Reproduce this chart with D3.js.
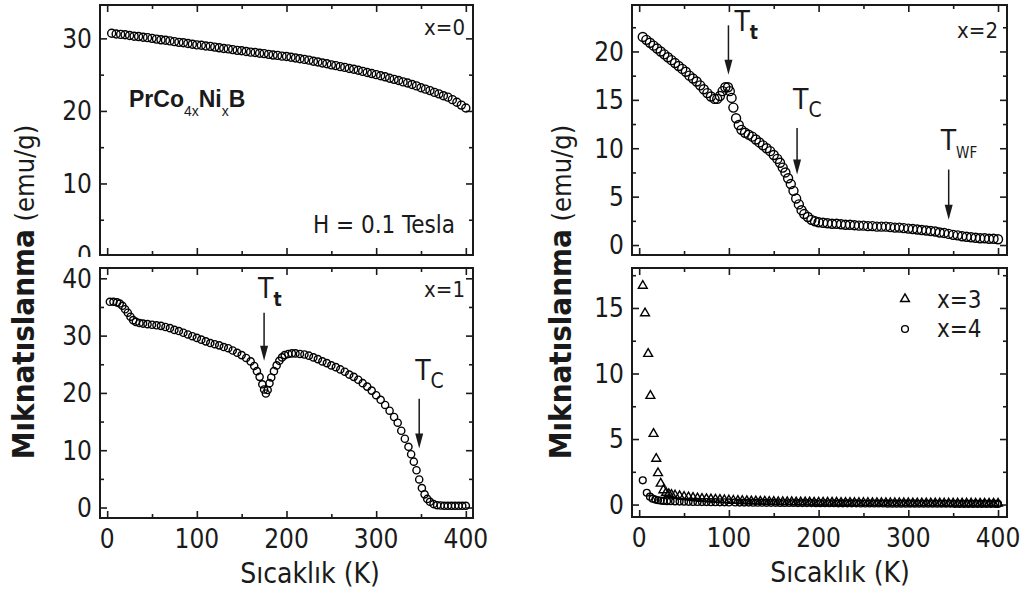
<!DOCTYPE html>
<html>
<head>
<meta charset="utf-8">
<script src="https://cdn.jsdelivr.net/npm/d3@7"></script>
<style>
  body { margin: 0; background: #fff; }
  svg { display: block; }
</style>
</head>
<body>
<svg id="chart" width="1027" height="601"></svg>
<script>
// PrCo(4-x)Ni(x)B magnetisation vs temperature, [T (K), M (emu/g)]
var seriesX0 = [[5,30.7],[10,30.6],[15,30.55],[20,30.5],[25,30.4],[30,30.3],[35,30.25],[40,30.15],[45,30.1],[50,30.0],[55,29.9],[60,29.8],[65,29.75],[70,29.65],[75,29.55],[80,29.45],[85,29.4],[90,29.3],[95,29.2],[100,29.1],[105,29.05],[110,28.95],[115,28.9],[120,28.8],[125,28.7],[130,28.6],[135,28.55],[140,28.45],[145,28.35],[150,28.3],[155,28.2],[160,28.1],[165,28.05],[170,27.95],[175,27.9],[180,27.8],[185,27.7],[190,27.65],[195,27.55],[200,27.5],[205,27.4],[210,27.3],[215,27.2],[220,27.1],[225,27.0],[230,26.85],[235,26.75],[240,26.6],[245,26.5],[250,26.35],[255,26.25],[260,26.1],[265,26.0],[270,25.85],[275,25.75],[280,25.6],[285,25.45],[290,25.3],[295,25.15],[300,25.0],[305,24.85],[310,24.7],[315,24.5],[320,24.35],[325,24.2],[330,24.0],[335,23.85],[340,23.65],[345,23.45],[350,23.2],[355,23.0],[360,22.8],[365,22.55],[370,22.35],[375,22.1],[380,21.9],[385,21.55],[390,21.2],[395,20.8],[400,20.4]];

var seriesX1 = [[3,35.9],[7,35.9],[11,35.8],[14,35.6],[17,35.2],[20,34.6],[23,34.0],[26,33.3],[29,32.7],[32,32.4],[36,32.2],[40,32.1],[45,32.0],[50,31.9],[55,31.8],[60,31.7],[65,31.5],[70,31.3],[75,31.0],[80,30.8],[85,30.5],[90,30.2],[95,29.9],[100,29.6],[105,29.3],[110,29.0],[115,28.7],[120,28.5],[125,28.3],[130,28.0],[135,27.8],[140,27.4],[145,27.0],[150,26.6],[155,26.1],[160,25.5],[164,24.7],[167,23.8],[170,22.8],[173,21.5],[175,20.6],[177,19.9],[179,20.5],[181,21.7],[183,22.7],[186,23.8],[189,24.8],[192,25.6],[195,26.2],[198,26.6],[202,26.8],[206,26.9],[210,26.9],[215,26.8],[220,26.7],[225,26.5],[230,26.2],[235,25.9],[240,25.5],[245,25.2],[250,24.8],[255,24.5],[260,24.1],[265,23.7],[270,23.2],[275,22.8],[280,22.3],[285,21.7],[290,21.1],[295,20.4],[300,19.6],[305,18.8],[310,17.9],[315,16.9],[320,15.8],[324,14.8],[328,13.4],[332,12.0],[336,10.6],[339,9.3],[342,8.0],[345,6.5],[348,4.9],[351,3.4],[354,2.3],[357,1.5],[360,1.0],[364,0.6],[368,0.4],[372,0.35],[376,0.3],[380,0.3],[384,0.3],[388,0.3],[392,0.3],[396,0.3],[400,0.3]];

var seriesX2 = [[4,21.5],[8,21.2],[12,20.9],[16,20.6],[20,20.3],[24,20.0],[28,19.7],[32,19.4],[36,19.1],[40,18.8],[44,18.5],[48,18.2],[52,17.9],[56,17.5],[60,17.2],[64,16.9],[68,16.5],[72,16.1],[76,15.7],[80,15.35],[84,15.1],[87,15.1],[90,15.4],[93,15.9],[96,16.3],[99,16.3],[101,15.9],[103,15.2],[105,14.2],[108,13.1],[111,12.4],[114,11.9],[118,11.6],[122,11.4],[126,11.2],[130,10.9],[134,10.6],[138,10.3],[142,10.0],[146,9.7],[150,9.3],[154,8.9],[157,8.5],[160,8.0],[163,7.5],[166,6.9],[169,6.3],[172,5.6],[175,4.8],[178,4.2],[181,3.6],[184,3.2],[188,2.9],[192,2.6],[196,2.45],[200,2.35],[205,2.3],[210,2.25],[215,2.2],[220,2.2],[225,2.15],[230,2.1],[235,2.1],[240,2.05],[245,2.0],[250,2.0],[255,1.95],[260,1.95],[265,1.9],[270,1.9],[275,1.9],[280,1.85],[285,1.8],[290,1.8],[295,1.75],[300,1.7],[305,1.65],[310,1.6],[315,1.55],[320,1.5],[325,1.45],[330,1.4],[335,1.3],[340,1.25],[345,1.15],[350,1.05],[355,1.0],[360,0.9],[365,0.85],[370,0.8],[375,0.75],[380,0.7],[385,0.7],[390,0.65],[395,0.65],[400,0.6]];

var seriesX3 = [[4,16.7],[6.5,14.6],[10,11.5],[12.5,8.3],[16,5.4],[19,3.5],[21,2.4],[24,1.6],[27,1.1],[30,0.9],[33,0.8],[36,0.75],[40,0.7],[45,0.65],[50,0.6],[55,0.56],[60,0.52],[65,0.48],[70,0.45],[75,0.42],[80,0.4],[85,0.38],[90,0.36],[95,0.34],[100,0.32],[105,0.3],[110,0.29],[115,0.28],[120,0.27],[125,0.26],[130,0.25],[135,0.24],[140,0.23],[145,0.22],[150,0.21],[155,0.2],[160,0.2],[165,0.19],[170,0.19],[175,0.18],[180,0.18],[185,0.17],[190,0.17],[195,0.16],[200,0.16],[205,0.16],[210,0.15],[215,0.15],[220,0.15],[225,0.14],[230,0.14],[235,0.14],[240,0.13],[245,0.13],[250,0.13],[255,0.13],[260,0.12],[265,0.12],[270,0.12],[275,0.12],[280,0.11],[285,0.11],[290,0.11],[295,0.11],[300,0.11],[305,0.1],[310,0.1],[315,0.1],[320,0.1],[325,0.1],[330,0.1],[335,0.1],[340,0.09],[345,0.09],[350,0.09],[355,0.09],[360,0.09],[365,0.09],[370,0.09],[375,0.08],[380,0.08],[385,0.08],[390,0.08],[395,0.08],[400,0.08]];

var seriesX4 = [[4,1.85],[8.5,0.9],[12,0.6],[15,0.45],[18,0.38],[21,0.33],[24,0.3],[27,0.28],[31,0.26],[35,0.25],[40,0.24],[45,0.23],[50,0.22],[55,0.21],[60,0.2],[65,0.2],[70,0.19],[75,0.19],[80,0.18],[85,0.18],[90,0.17],[95,0.17],[100,0.16],[107,0.16],[112,0.15],[117,0.15],[122,0.15],[127,0.14],[132,0.14],[137,0.14],[142,0.13],[147,0.13],[152,0.13],[157,0.12],[162,0.12],[167,0.12],[172,0.12],[177,0.11],[182,0.11],[187,0.11],[192,0.11],[197,0.1],[202,0.1],[207,0.1],[212,0.1],[217,0.1],[222,0.09],[227,0.09],[232,0.09],[237,0.09],[242,0.09],[247,0.08],[252,0.08],[257,0.08],[262,0.08],[267,0.08],[272,0.08],[277,0.07],[282,0.07],[287,0.07],[292,0.07],[297,0.07],[302,0.07],[307,0.07],[312,0.06],[317,0.06],[322,0.06],[327,0.06],[332,0.06],[337,0.06],[342,0.06],[347,0.06],[352,0.05],[357,0.05],[362,0.05],[367,0.05],[372,0.05],[377,0.05],[382,0.05],[387,0.05],[392,0.05],[397,0.05],[400,0.05]];

// tick labels
var xTicks = [0, 100, 200, 300, 400];
var yTicksX0 = [0, 10, 20, 30];
var yTicksX1 = [0, 10, 20, 30, 40];
var yTicksX2 = [0, 5, 10, 15, 20];
var yTicksX34 = [0, 5, 10, 15];

// arrows: temperature, from M, to M, subscript
var arrowsX1 = [{t: 175, from: 34.0, to: 25.6, sub: "t"}, {t: 348, from: 19.0, to: 10.3, sub: "C"}];
var arrowsX2 = [{t: 99.5, from: 22.7, to: 17.6, sub: "t"}, {t: 176, from: 12.1, to: 7.3, sub: "C"}, {t: 345, from: 7.8, to: 2.6, sub: "WF"}];

var FONT = '"Liberation Sans Narrow", "Arial Narrow", "DejaVu Sans Condensed", sans-serif';
var INK = "#1a1a1a";

var svg = d3.select("#chart");
svg.append("rect").attr("width", 1027).attr("height", 601).attr("fill", "#fff");

var defs = svg.append("defs");

function panel(opt) {
    var x = d3.scaleLinear().domain(opt.xDomain).range([opt.left, opt.right]);
    var y = d3.scaleLinear().domain(opt.yDomain).range([opt.bottom, opt.top]);
    var g = svg.append("g");

    var majorY = opt.yTicks.filter(function(v) { return v >= opt.yDomain[0] && v <= opt.yDomain[1]; });
    var step = opt.yTicks[1] - opt.yTicks[0];
    var minorY = [];
    opt.yTicks.forEach(function(v) {
        if (v + step / 2 >= opt.yDomain[0] && v + step / 2 <= opt.yDomain[1]) minorY.push(v + step / 2);
    });
    var minorX = [50, 150, 250, 350];

    // left axis labels (top-left panel's "0" is cut by the panel below, as in the figure)
    var labelG = g.append("g");
    if (opt.clipLabels) {
        defs.append("clipPath").attr("id", opt.id + "-clip")
            .append("rect").attr("x", 0).attr("y", 0).attr("width", opt.left).attr("height", opt.bottom + 2);
        labelG.attr("clip-path", "url(#" + opt.id + "-clip)");
    }
    labelG.selectAll("text").data(opt.yTicks).enter().append("text")
        .attr("x", opt.left - 8)
        .attr("y", function(d) { return y(d); })
        .attr("dy", "0.36em")
        .attr("text-anchor", "end")
        .attr("font-family", FONT)
        .attr("font-size", 26)
        .attr("fill", INK)
        .text(function(d) { return d; });

    function ticks(axis, vals, size, tr) {
        g.append("g").attr("transform", tr)
            .call(axis.tickValues(vals).tickSize(size).tickFormat(""))
            .call(function(s) {
                s.select(".domain").remove();
                s.selectAll("line").attr("stroke", INK).attr("stroke-width", 1.6);
            });
    }
    ticks(d3.axisLeft(y), majorY, -7, "translate(" + opt.left + ",0)");
    ticks(d3.axisLeft(y), minorY, -4, "translate(" + opt.left + ",0)");
    ticks(d3.axisRight(y), majorY, -7, "translate(" + opt.right + ",0)");
    ticks(d3.axisRight(y), minorY, -4, "translate(" + opt.right + ",0)");
    ticks(d3.axisBottom(x), xTicks, -7, "translate(0," + opt.bottom + ")");
    ticks(d3.axisBottom(x), minorX, -4, "translate(0," + opt.bottom + ")");
    ticks(d3.axisTop(x), xTicks, -7, "translate(0," + opt.top + ")");
    ticks(d3.axisTop(x), minorX, -4, "translate(0," + opt.top + ")");

    if (opt.xLabels) {
        g.append("g").selectAll("text").data(xTicks).enter().append("text")
            .attr("x", function(d) { return x(d); })
            .attr("y", opt.bottom + 30)
            .attr("text-anchor", "middle")
            .attr("font-family", FONT)
            .attr("font-size", 26)
            .attr("fill", INK)
            .text(function(d) { return d; });
    }

    g.append("rect")
        .attr("x", opt.left).attr("y", opt.top)
        .attr("width", opt.right - opt.left).attr("height", opt.bottom - opt.top)
        .attr("fill", "none").attr("stroke", INK).attr("stroke-width", 2);

    return {g: g, x: x, y: y};
}

function circles(p, data, r) {
    p.g.append("g").selectAll("circle").data(data).enter().append("circle")
        .attr("cx", function(d) { return p.x(d[0]); })
        .attr("cy", function(d) { return p.y(d[1]); })
        .attr("r", r)
        .attr("fill", "none")
        .attr("stroke", "#000")
        .attr("stroke-width", 1.4);
}

var triangle = d3.symbol().type(d3.symbolTriangle).size(34);

function triangles(p, data) {
    p.g.append("g").selectAll("path").data(data).enter().append("path")
        .attr("d", triangle)
        .attr("transform", function(d) { return "translate(" + p.x(d[0]) + "," + p.y(d[1]) + ")"; })
        .attr("fill", "none")
        .attr("stroke", "#000")
        .attr("stroke-width", 1.4);
}

function label(p, px, py, txt, size, anchor) {
    p.g.append("text")
        .attr("x", px).attr("y", py)
        .attr("text-anchor", anchor || "end")
        .attr("font-family", FONT)
        .attr("font-size", size)
        .attr("fill", INK)
        .text(txt);
}

// where the "T" sits relative to the top of its arrow
var labelShift = {t: [-6, -15], C: [-4, -19], WF: [-8, -20]};

function arrows(p, list, shifts) {
    list.forEach(function(a, i) {
        var ax = p.x(a.t), y0 = p.y(a.from), y1 = p.y(a.to);
        var sh = (shifts && shifts[i]) || labelShift[a.sub];
        p.g.append("line")
            .attr("x1", ax).attr("x2", ax).attr("y1", y0).attr("y2", y1 - 6)
            .attr("stroke", INK).attr("stroke-width", 1.5);
        p.g.append("path")
            .attr("d", "M" + (ax - 4) + "," + (y1 - 15) + "L" + (ax + 4) + "," + (y1 - 15) + "L" + ax + "," + y1 + "Z")
            .attr("fill", INK);
        var t = p.g.append("text")
            .attr("x", ax + sh[0]).attr("y", y0 + sh[1])
            .attr("font-family", FONT)
            .attr("font-size", 28)
            .attr("fill", INK);
        t.append("tspan").text("T");
        t.append("tspan")
            .attr("dy", 8)
            .attr("font-size", a.sub === "WF" ? 15 : (a.sub === "t" ? 19 : 21))
            .attr("font-weight", a.sub === "t" ? "bold" : "normal")
            .text(a.sub);
    });
}

// left column
var pA = panel({id: "pA", left: 100, right: 473, top: 5, bottom: 255, xDomain: [-8, 408], yDomain: [0.14, 34.6], yTicks: yTicksX0, clipLabels: true});
circles(pA, seriesX0, 4);
label(pA, 465, 35, "x=0", 22);
label(pA, 455, 233, "H = 0.1 Tesla", 24);
var formula = pA.g.append("text").attr("x", 129).attr("y", 107)
    .attr("font-family", "Liberation Sans, Arial, sans-serif")
    .attr("font-weight", "bold").attr("font-size", 23).attr("fill", INK);
formula.append("tspan").text("PrCo");
formula.append("tspan").attr("dy", 9).attr("font-size", 14).attr("font-weight", "normal").text("4x");
formula.append("tspan").attr("dy", -9).text("Ni");
formula.append("tspan").attr("dy", 9).attr("font-size", 14).attr("font-weight", "normal").text("x");
formula.append("tspan").attr("dy", -9).text("B");

var pB = panel({id: "pB", left: 100, right: 473, top: 268, bottom: 518, xDomain: [-8, 408], yDomain: [-1.83, 41.8], yTicks: yTicksX1, xLabels: true});
circles(pB, seriesX1, 3.6);
label(pB, 465, 297, "x=1", 22);
arrows(pB, arrowsX1);

// right column
var pC = panel({id: "pC", left: 632, right: 1007, top: 5, bottom: 255, xDomain: [-8, 410], yDomain: [-1.03, 24.8], yTicks: yTicksX2});
circles(pC, seriesX2, 4.5);
label(pC, 998, 38, "x=2", 22);
arrows(pC, arrowsX2, [[6, 6]]);

var pD = panel({id: "pD", left: 632, right: 1007, top: 268, bottom: 517, xDomain: [-8, 410], yDomain: [-0.95, 18.05], yTicks: yTicksX34, xLabels: true});
triangles(pD, seriesX3);
circles(pD, seriesX4, 3.4);

// legend
pD.g.append("path").attr("d", triangle).attr("transform", "translate(905,299)")
    .attr("fill", "none").attr("stroke", "#000").attr("stroke-width", 1.4);
pD.g.append("circle").attr("cx", 905).attr("cy", 329).attr("r", 3.4)
    .attr("fill", "none").attr("stroke", "#000").attr("stroke-width", 1.4);
label(pD, 937, 308, "x=3", 24, "start");
label(pD, 937, 337, "x=4", 24, "start");

// axis titles
[[28, 292], [565, 292]].forEach(function(pos) {
    var t = svg.append("text")
        .attr("transform", "translate(" + pos[0] + "," + pos[1] + ") rotate(-90)")
        .attr("text-anchor", "middle")
        .attr("dy", "0.35em")
        .attr("font-family", FONT)
        .attr("fill", INK);
    t.append("tspan").attr("font-size", 31).attr("font-weight", "bold").text("Mıknatıslanma");
    t.append("tspan").attr("font-size", 27).text(" (emu/g)");
});

[[310, 583], [840, 582]].forEach(function(pos) {
    svg.append("text")
        .attr("x", pos[0]).attr("y", pos[1])
        .attr("text-anchor", "middle")
        .attr("font-family", FONT)
        .attr("font-size", 28)
        .attr("fill", INK)
        .text("Sıcaklık (K)");
});
</script>
</body>
</html>
